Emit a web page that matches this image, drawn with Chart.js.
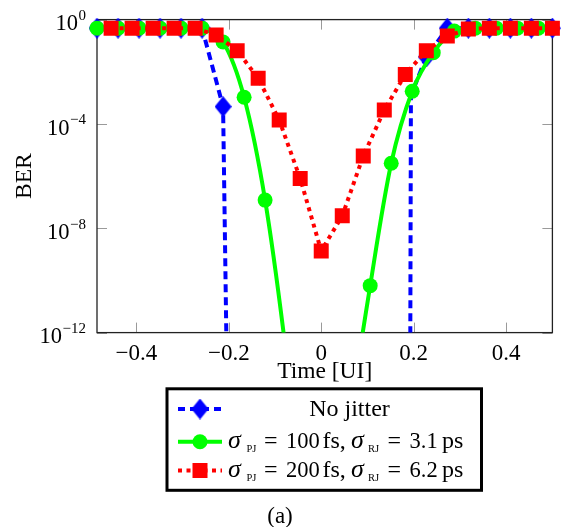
<!DOCTYPE html>
<html><head><meta charset="utf-8">
<script src="https://cdn.jsdelivr.net/npm/chart.js@4/dist/chart.umd.min.js"></script>
<style>html,body{margin:0;padding:0;background:#fff;}#wrap{width:563px;height:527px;}</style>
</head><body><div id="wrap"><canvas id="c" width="563" height="527"></canvas></div>
<script>
// ---- data ----
const xTickValues = [-0.4, -0.2, 0, 0.2, 0.4];
const xTickLabels = ['\u22120.4', '\u22120.2', '0', '0.2', '0.4'];
const yTickValues = [1, 1e-4, 1e-8, 1e-12];
const yTickBase = '10';
const yTickExponents = ['0', '\u22124', '\u22128', '\u221212'];

const seriesNames = ['No jitter', '\u03C3PJ = 100 fs, \u03C3RJ = 3.1 ps', '\u03C3PJ = 200 fs, \u03C3RJ = 6.2 ps'];

const noJitterX = [-0.485, -0.4395, -0.3941, -0.3486, -0.3032, -0.2577, -0.2123, -0.1668, -0.1214, -0.0759, -0.0305, 0.015, 0.0605, 0.1059, 0.1514, 0.194, 0.2273, 0.2727, 0.3182, 0.3636, 0.4091, 0.4545, 0.5];
const noJitterBER = [0.47, 0.47, 0.47, 0.47, 0.47, 0.47, 4.6e-4, 1e-60, 1e-300, 1e-300, 1e-300, 1e-300, 1e-300, 1e-300, 1e-300, 1.26e-3, 0.037, 0.47, 0.47, 0.47, 0.47, 0.47, 0.47];

const jitter1X = [-0.485, -0.4395, -0.3941, -0.3486, -0.3032, -0.2577, -0.2123, -0.1668, -0.1214, -0.0759, -0.0305, 0.015, 0.0605, 0.1059, 0.1514, 0.1968, 0.2423, 0.2877, 0.3332, 0.3786, 0.4241, 0.4695];
const jitter1BER = [0.47, 0.47, 0.47, 0.47, 0.47, 0.47, 0.138, 1.05e-3, 1.2e-7, 1.6e-13, 1e-20, 1e-22, 3.2e-16, 6.3e-11, 3.1e-6, 1.8e-3, 0.054, 0.363, 0.47, 0.47, 0.47, 0.47];

const jitter2X = [-0.4545, -0.4091, -0.3636, -0.3182, -0.2727, -0.2273, -0.1818, -0.1364, -0.0909, -0.0455, 0, 0.0455, 0.0909, 0.1364, 0.1818, 0.2273, 0.2727, 0.3182, 0.3636, 0.4091, 0.4545, 0.5];
const jitter2BER = [0.47, 0.47, 0.47, 0.47, 0.47, 0.257, 0.0646, 5.6e-3, 1.41e-4, 8.1e-7, 1.35e-9, 3.0e-8, 5.9e-6, 3.4e-4, 7.9e-3, 0.0646, 0.234, 0.437, 0.47, 0.47, 0.47, 0.47];

// ---- styles ----
const BLUE = '#0000ff', GREEN = '#00ff00', RED = '#ff0000';
const FONT = 'Liberation Serif';
Chart.defaults.font.family = FONT;
Chart.defaults.color = '#000';

function makeDiamond() {
  const c = document.createElement('canvas');
  c.width = 17; c.height = 21;
  const g = c.getContext('2d');
  g.fillStyle = BLUE;
  g.beginPath(); g.moveTo(8.5, 0); g.lineTo(17, 10.5); g.lineTo(8.5, 21); g.lineTo(0, 10.5); g.closePath(); g.fill();
  return c;
}
const diamond = makeDiamond();
const CLIP = {left: 15, top: 15, right: 15, bottom: 0};

const framePlugin = {
  id: 'frame',
  beforeDatasetsDraw(chart) {
    const {ctx, chartArea: a, scales} = chart;
    ctx.save();
    ctx.strokeStyle = '#9a9a9a'; ctx.lineWidth = 1;
    ctx.beginPath();
    xTickValues.forEach(v => {
      const x = Math.round(scales.x.getPixelForValue(v)) + 0.5;
      ctx.moveTo(x, a.bottom); ctx.lineTo(x, a.bottom - 10);
      ctx.moveTo(x, a.top); ctx.lineTo(x, a.top + 10);
    });
    yTickValues.forEach(v => {
      const y = Math.round(scales.y.getPixelForValue(v)) + 0.5;
      ctx.moveTo(a.left, y); ctx.lineTo(a.left + 10, y);
      ctx.moveTo(a.right, y); ctx.lineTo(a.right - 10, y);
    });
    ctx.stroke();
    ctx.strokeStyle = '#222'; ctx.lineWidth = 1.3;
    ctx.strokeRect(a.left, a.top, a.right - a.left, a.bottom - a.top);
    ctx.restore();
  },
  afterDraw(chart) {
    // y tick labels of the log axis: base 10 with raised exponent
    const {ctx, scales} = chart;
    ctx.save();
    ctx.fillStyle = '#000';
    ctx.textAlign = 'right';
    ctx.textBaseline = 'alphabetic';
    const xr = 86;
    yTickValues.forEach((v, i) => {
      const y = scales.y.getPixelForValue(v);
      ctx.font = '15px ' + FONT;
      const ew = ctx.measureText(yTickExponents[i]).width;
      ctx.fillText(yTickExponents[i], xr, y + 0.5);
      ctx.font = '22.5px ' + FONT;
      ctx.fillText(yTickBase, xr - ew - 0.5, y + 10.8);
    });
    ctx.restore();
  }
};

function drawSample(ctx, i, y) {
  const x0 = 178, x1 = 222, xm = 200;
  ctx.save();
  ctx.lineWidth = 4; ctx.lineCap = 'butt';
  if (i === 0) { ctx.strokeStyle = BLUE; ctx.setLineDash([7, 5]); }
  if (i === 1) { ctx.strokeStyle = GREEN; ctx.setLineDash([]); }
  if (i === 2) { ctx.strokeStyle = RED; ctx.setLineDash([4, 4.5]); }
  ctx.beginPath(); ctx.moveTo(x0, y); ctx.lineTo(x1, y); ctx.stroke();
  ctx.setLineDash([]);
  if (i === 0) ctx.drawImage(diamond, xm - 8.5, y - 10.5);
  if (i === 1) { ctx.fillStyle = GREEN; ctx.beginPath(); ctx.arc(xm, y, 7.5, 0, Math.PI * 2); ctx.fill(); }
  if (i === 2) { ctx.fillStyle = RED; ctx.fillRect(xm - 7.5, y - 7.5, 15, 15); }
  ctx.restore();
}

function drawJitterLabel(ctx, baseY, pj, rj) {
  const big = '24px ' + FONT, num = '22.5px ' + FONT, ital = 'italic 26px ' + FONT, sub = '10.5px ' + FONT;
  const runs = [
    {t: '\u03C3', x: 228, f: ital, dy: 0},
    {t: 'PJ', x: 246.5, f: sub, dy: 4},
    {t: '=', x: 264, f: big, dy: 0},
    {t: pj, x: 286, f: num, dy: 0},
    {t: 'fs,', x: 322.5, f: big, dy: 0},
    {t: '\u03C3', x: 351, f: ital, dy: 0},
    {t: 'RJ', x: 368, f: sub, dy: 4},
    {t: '=', x: 387.5, f: big, dy: 0},
    {t: rj, x: 409.5, f: num, dy: 0},
    {t: 'ps', x: 442, f: big, dy: 0}
  ];
  runs.forEach(r => { ctx.font = r.f; ctx.fillText(r.t, r.x, baseY + r.dy); });
}

const legendPlugin = {
  id: 'boxLegend',
  afterDraw(chart) {
    const ctx = chart.ctx;
    ctx.save();
    ctx.fillStyle = '#fff';
    ctx.fillRect(167, 388.8, 314.5, 101.5);
    ctx.strokeStyle = '#000'; ctx.lineWidth = 3;
    ctx.strokeRect(167, 388.8, 314.5, 101.5);
    const rows = [409, 441.7, 470.5];
    rows.forEach((y, i) => drawSample(ctx, i, y));
    ctx.fillStyle = '#000';
    ctx.textBaseline = 'alphabetic';
    ctx.textAlign = 'center';
    ctx.font = '24px ' + FONT;
    ctx.fillText(seriesNames[0], 349.5, 416);
    ctx.textAlign = 'left';
    drawJitterLabel(ctx, 448, '100', '3.1');
    drawJitterLabel(ctx, 477, '200', '6.2');
    ctx.textAlign = 'center'; ctx.textBaseline = 'middle';
    ctx.font = '23px ' + FONT;
    ctx.fillText('(a)', 280, 517);
    ctx.restore();
  }
};

function pts(xs, ys) { return xs.map((x, i) => ({x: x, y: ys[i]})); }

new Chart(document.getElementById('c'), {
  type: 'line',
  data: {
    datasets: [
      {
        label: seriesNames[0], data: pts(noJitterX, noJitterBER),
        borderColor: BLUE, borderWidth: 4, borderDash: [8, 5], borderJoinStyle: 'round',
        pointStyle: diamond, pointRadius: noJitterX.map((x, i) => i === 15 ? 0 : 9),
        pointBackgroundColor: BLUE, pointBorderWidth: 0, tension: 0, order: 3, clip: CLIP
      },
      {
        label: seriesNames[1], data: pts(jitter1X, jitter1BER),
        borderColor: GREEN, borderWidth: 4, borderJoinStyle: 'round',
        pointStyle: 'circle', pointRadius: 7.5,
        pointBackgroundColor: GREEN, pointBorderWidth: 0, tension: 0.3, order: 2, clip: CLIP
      },
      {
        label: seriesNames[2], data: pts(jitter2X, jitter2BER),
        borderColor: RED, borderWidth: 4, borderDash: [4, 4.5], borderJoinStyle: 'round',
        pointStyle: 'rect', pointRadius: 10.6,
        pointBackgroundColor: RED, pointBorderWidth: 0, tension: 0, order: 1, clip: CLIP
      }
    ]
  },
  options: {
    responsive: false, animation: false, events: [],
    layout: {padding: {left: 0, top: 19.6, right: 9.5, bottom: 0}},
    plugins: {legend: {display: false}, tooltip: {enabled: false}},
    scales: {
      x: {
        type: 'linear', min: -0.485, max: 0.5,
        grid: {display: false, drawTicks: false}, border: {display: false},
        afterBuildTicks: s => { s.ticks = xTickValues.map(v => ({value: v})); },
        afterFit: s => { s.height = 194.4; },
        ticks: {
          autoSkip: false, padding: 8, maxRotation: 0,
          font: {size: 23, family: FONT}, color: '#000',
          callback: v => { const i = xTickValues.findIndex(t => Math.abs(t - v) < 1e-9); return i >= 0 ? xTickLabels[i] : ''; }
        },
        title: {display: true, text: 'Time [UI]', font: {size: 23.5, family: FONT}, color: '#000', padding: {top: 0, bottom: 141}}
      },
      y: {
        type: 'logarithmic', min: 1e-12, max: 1,
        grid: {display: false, drawTicks: false}, border: {display: false},
        afterBuildTicks: s => { s.ticks = yTickValues.map(v => ({value: v})); },
        afterFit: s => { s.width = 97; },
        ticks: {display: false},
        title: {display: true, text: 'BER', font: {size: 23.5, family: FONT}, color: '#000', padding: {top: 11, bottom: 0}}
      }
    }
  },
  plugins: [framePlugin, legendPlugin]
});
</script>
</body></html>
